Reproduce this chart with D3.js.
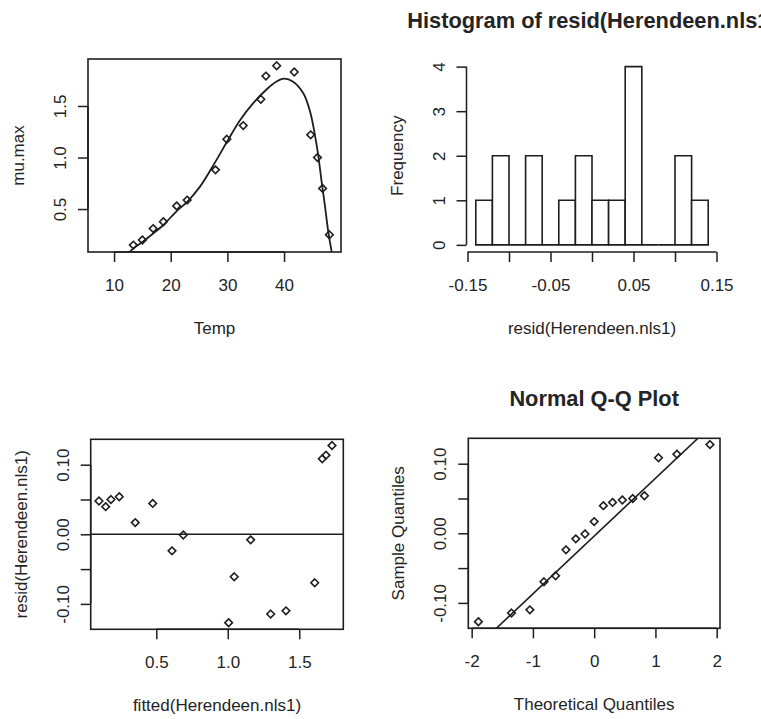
<!DOCTYPE html>
<html>
<head>
<meta charset="utf-8">
<script src="https://cdn.jsdelivr.net/npm/d3@7"></script>
<style>
  body { margin: 0; background: #fff; }
  svg text { font-family: "Liberation Sans", Arial, sans-serif; font-size: 17px; fill: #242424; }
</style>
</head>
<body>
<svg id="chart" width="761" height="719"></svg>
<script>
// values
var temp  = [13.4, 15.0, 16.9, 18.7, 21.05, 22.9, 27.9, 29.9, 32.8, 35.9, 36.8, 38.7, 41.8, 44.7, 45.9, 46.8, 48.0];
var muMax = [0.15, 0.20, 0.31, 0.377, 0.53, 0.587, 0.88, 1.177, 1.31, 1.565, 1.79, 1.89, 1.83, 1.22, 1.0, 0.70, 0.25];

// fitted curve
var curveTemp = [12.8, 13.4, 15.0, 16.9, 18.7, 21.05, 22.9, 25.2, 27.9, 29.9, 32.2, 34.6, 36.9, 38.6, 40.0, 41.6, 43.4, 44.6, 45.45, 46.03, 46.63, 47.2, 47.8, 48.4];
var curveMu   = [0.085, 0.118, 0.18, 0.262, 0.345, 0.48, 0.57, 0.72, 0.96, 1.15, 1.36, 1.53, 1.66, 1.735, 1.765, 1.736, 1.623, 1.445, 1.218, 1.024, 0.765, 0.539, 0.28, 0.085];

var fitted = [0.099, 0.146, 0.183, 0.241, 0.353, 0.475, 0.610, 0.689, 1.006, 1.045, 1.160, 1.300, 1.407, 1.608, 1.661, 1.687, 1.729];
var resid  = [0.0479, 0.0397, 0.050, 0.054, 0.0168, 0.0444, -0.0238, -0.001, -0.127, -0.061, -0.008, -0.1146, -0.110, -0.0697, 0.1085, 0.1137, 0.1275];

var histBreaks = [-0.14, -0.12, -0.10, -0.08, -0.06, -0.04, -0.02, 0, 0.02, 0.04, 0.06, 0.08, 0.10, 0.12, 0.14];

var theoQuantiles = [-1.89, -1.35, -1.05, -0.82, -0.63, -0.46, -0.30, -0.15, 0, 0.15, 0.30, 0.46, 0.63, 0.82, 1.05, 1.35, 1.89];
var qqIntercept = -0.004, qqSlope = 0.083;

// ticks and their labels
var tempTicks = [10, 20, 30, 40],           tempLabels = ["10", "20", "30", "40"];
var muTicks = [0.5, 1.0, 1.5],              muLabels = ["0.5", "1.0", "1.5"];
var residXTicks = [-0.15, -0.10, -0.05, 0, 0.05, 0.10, 0.15];
var residXLabels = ["-0.15", "", "-0.05", "", "0.05", "", "0.15"];
var freqTicks = [0, 1, 2, 3, 4],            freqLabels = ["0", "1", "2", "3", "4"];
var fittedTicks = [0.5, 1.0, 1.5],          fittedLabels = ["0.5", "1.0", "1.5"];
var residYTicks = [-0.10, -0.05, 0, 0.05, 0.10];
var residYLabels = ["-0.10", "", "0.00", "", "0.10"];
var qqTicks = [-2, -1, 0, 1, 2],            qqLabels = ["-2", "-1", "0", "1", "2"];

var ink = "#1e1e1e";
var svg = d3.select("#chart");

function makeScales(p) {
  return {
    x: d3.scaleLinear().domain(p.xd).range([p.l, p.r]),
    y: d3.scaleLinear().domain(p.yd).range([p.b, p.t])
  };
}

function drawBox(p) {
  svg.append("rect")
    .attr("x", p.l).attr("y", p.t)
    .attr("width", p.r - p.l).attr("height", p.b - p.t)
    .attr("fill", "none").attr("stroke", ink).attr("stroke-width", 1.6);
}

function xAxis(x, yPos, ticks, labels) {
  var g = svg.append("g")
    .attr("transform", "translate(0," + yPos + ")")
    .call(d3.axisBottom(x).tickValues(ticks).tickSize(10).tickPadding(17)
      .tickFormat(function (d, i) { return labels[i]; }));
  g.attr("font-size", null).attr("font-family", null);
  g.select(".domain").remove();
  g.selectAll(".tick line").attr("stroke", ink).attr("stroke-width", 1.5);
  g.append("line")
    .attr("x1", x(ticks[0])).attr("x2", x(ticks[ticks.length - 1]))
    .attr("stroke", ink).attr("stroke-width", 1.5);
}

function yAxis(y, xPos, ticks, labels) {
  var g = svg.append("g")
    .attr("transform", "translate(" + xPos + ",0)")
    .call(d3.axisLeft(y).tickValues(ticks).tickSize(10)
      .tickFormat(function (d, i) { return labels[i]; }));
  g.attr("font-size", null).attr("font-family", null);
  g.select(".domain").remove();
  g.selectAll(".tick line").attr("stroke", ink).attr("stroke-width", 1.5);
  g.selectAll(".tick text")
    .attr("x", 0).attr("y", -22).attr("dy", null)
    .attr("text-anchor", "middle")
    .attr("transform", "rotate(-90)");
  g.append("line")
    .attr("y1", y(ticks[0])).attr("y2", y(ticks[ticks.length - 1]))
    .attr("stroke", ink).attr("stroke-width", 1.5);
}

function labels(p, xLab, yLab, title) {
  var cx = (p.l + p.r) / 2, cy = (p.t + p.b) / 2;
  svg.append("text").attr("x", cx).attr("y", p.b + 82)
    .attr("text-anchor", "middle").text(xLab);
  svg.append("text")
    .attr("transform", "translate(" + (p.l - 64) + "," + cy + ") rotate(-90)")
    .attr("text-anchor", "middle").text(yLab);
  if (title) {
    svg.append("text").attr("x", cx).attr("y", p.t - 32)
      .attr("text-anchor", "middle")
      .style("font-size", "21.8px").style("font-weight", "bold")
      .text(title);
  }
}

var diamond = {
  draw: function (ctx, size) {
    var r = Math.sqrt(size);
    ctx.moveTo(0, -r); ctx.lineTo(r, 0); ctx.lineTo(0, r); ctx.lineTo(-r, 0); ctx.closePath();
  }
};
var marker = d3.symbol().type(diamond).size(14.5);

function points(s, xs, ys) {
  svg.append("g").selectAll("path")
    .data(xs)
    .enter().append("path")
    .attr("d", marker)
    .attr("transform", function (d, i) { return "translate(" + s.x(d) + "," + s.y(ys[i]) + ")"; })
    .attr("fill", "none").attr("stroke", ink).attr("stroke-width", 1.6);
}

function clipFor(id, p) {
  svg.append("clipPath").attr("id", id).append("rect")
    .attr("x", p.l).attr("y", p.t).attr("width", p.r - p.l).attr("height", p.b - p.t);
  return "url(#" + id + ")";
}

// ---- panel 1: mu.max vs Temp with fitted curve
var p1 = { l: 88, r: 341, t: 59, b: 252, xd: [5.4, 50.05], yd: [0.083, 1.956] };
var s1 = makeScales(p1);
svg.append("path")
  .datum(curveTemp)
  .attr("clip-path", clipFor("c1", p1))
  .attr("d", d3.line()
    .x(function (d) { return s1.x(d); })
    .y(function (d, i) { return s1.y(curveMu[i]); })
    .curve(d3.curveCatmullRom))
  .attr("fill", "none").attr("stroke", ink).attr("stroke-width", 1.8);
points(s1, temp, muMax);
drawBox(p1);
xAxis(s1.x, p1.b, tempTicks, tempLabels);
yAxis(s1.y, p1.l, muTicks, muLabels);
labels(p1, "Temp", "mu.max");

// ---- panel 2: histogram of residuals
var p2 = { l: 466.5, r: 717.5, t: 59.5, b: 252, xd: [-0.1512, 0.1512], yd: [-0.16, 4.16] };
var s2 = makeScales(p2);
var bins = d3.bin().domain([histBreaks[0], histBreaks[histBreaks.length - 1]])
  .thresholds(histBreaks.slice(1, -1))(resid);
svg.append("g").selectAll("path")
  .data(bins)
  .enter().append("path")
  .attr("d", function (b) {
    var x0 = s2.x(b.x0), x1 = s2.x(b.x1), y0 = s2.y(0), y1 = s2.y(b.length);
    return "M" + x0 + "," + y0 + "V" + y1 + "H" + x1 + "V" + y0 + "Z";
  })
  .attr("fill", "#fff").attr("stroke", ink).attr("stroke-width", 1.6);
xAxis(s2.x, p2.b, residXTicks, residXLabels);
yAxis(s2.y, p2.l, freqTicks, freqLabels);
labels(p2, "resid(Herendeen.nls1)", "Frequency", "Histogram of resid(Herendeen.nls1)");

// ---- panel 3: residuals vs fitted
var p3 = { l: 90.7, r: 343.3, t: 439.3, b: 629.3, xd: [0.0413, 1.808], yd: [-0.1365, 0.1365] };
var s3 = makeScales(p3);
svg.append("line")
  .attr("x1", p3.l).attr("x2", p3.r).attr("y1", s3.y(0)).attr("y2", s3.y(0))
  .attr("stroke", ink).attr("stroke-width", 1.6);
points(s3, fitted, resid);
drawBox(p3);
xAxis(s3.x, p3.b, fittedTicks, fittedLabels);
yAxis(s3.y, p3.l, residYTicks, residYLabels);
labels(p3, "fitted(Herendeen.nls1)", "resid(Herendeen.nls1)");

// ---- panel 4: normal Q-Q plot
var p4 = { l: 468.3, r: 720, t: 438.3, b: 628.3, xd: [-2.055, 2.054], yd: [-0.1365, 0.1365] };
var s4 = makeScales(p4);
var sortedResid = d3.sort(resid);
svg.append("line")
  .attr("clip-path", clipFor("c4", p4))
  .attr("x1", s4.x(p4.xd[0])).attr("y1", s4.y(qqIntercept + qqSlope * p4.xd[0]))
  .attr("x2", s4.x(p4.xd[1])).attr("y2", s4.y(qqIntercept + qqSlope * p4.xd[1]))
  .attr("stroke", ink).attr("stroke-width", 1.6);
points(s4, theoQuantiles, sortedResid);
drawBox(p4);
xAxis(s4.x, p4.b, qqTicks, qqLabels);
yAxis(s4.y, p4.l, residYTicks, residYLabels);
labels(p4, "Theoretical Quantiles", "Sample Quantiles", "Normal Q-Q Plot");
</script>
</body>
</html>
